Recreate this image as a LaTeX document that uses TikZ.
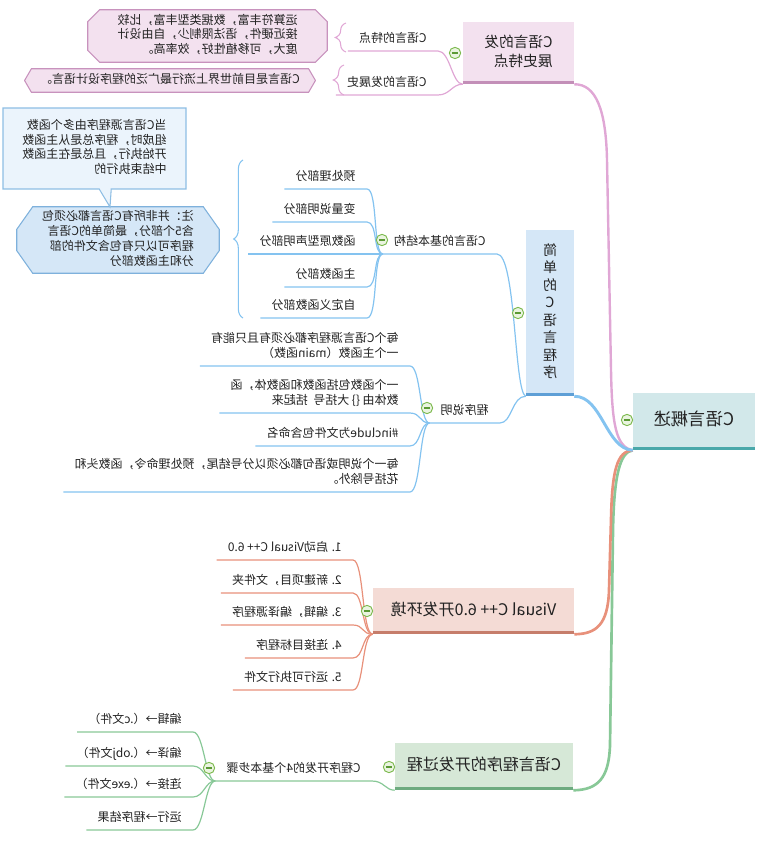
\documentclass[tikz,border=0pt]{standalone}
\usepackage{fontspec}
\usepackage{graphicx}
\setmainfont{Noto Sans CJK SC}
\usetikzlibrary{decorations.pathreplacing,shapes.callouts,backgrounds,calc}
\definecolor{txt}{HTML}{222222}
\definecolor{tealF}{HTML}{D2E8EA}\definecolor{tealB}{HTML}{4AA8AA}
\definecolor{pinkF}{HTML}{F3E1EF}\definecolor{pinkB}{HTML}{C38FB8}\definecolor{pinkL}{HTML}{E0A7D5}\definecolor{pinkD}{HTML}{C892BD}
\definecolor{blueF}{HTML}{D5E7F7}\definecolor{blueB}{HTML}{5E9FD6}\definecolor{blueL}{HTML}{84C3F0}\definecolor{blueD}{HTML}{7EB1DC}
\definecolor{salF}{HTML}{F4DBD5}\definecolor{salB}{HTML}{C67D6B}\definecolor{salL}{HTML}{E8917B}
\definecolor{grnF}{HTML}{D6E8D7}\definecolor{grnB}{HTML}{6EAB80}\definecolor{grnL}{HTML}{88C897}
\definecolor{mRing}{HTML}{7DBA4F}\definecolor{mFill}{HTML}{EAF4E0}\definecolor{mDash}{HTML}{5B9A35}
\definecolor{callF}{HTML}{EBF4FC}\definecolor{callD}{HTML}{8EBEE4}
\newcommand\mirL[1]{\reflectbox{\begin{tabular}{@{}l@{}}#1\end{tabular}}}
\newcommand\mirC[1]{\reflectbox{\begin{tabular}{@{}c@{}}#1\end{tabular}}}
\newcommand\chamfbox[4]{\draw[#4] ([xshift=#2]#1.north west) -- ([xshift=-#2]#1.north east) -- ([yshift=-#3]#1.north east) -- ([yshift=#3]#1.south east) -- ([xshift=-#2]#1.south east) -- ([xshift=#2]#1.south west) -- ([yshift=#3]#1.south west) -- ([yshift=-#3]#1.north west) -- cycle;}
\begin{document}
\begin{tikzpicture}[x=0.75pt,y=-0.75pt,
  box/.style={inner sep=0pt, text=txt},
  leaf/.style={anchor=south east, inner xsep=8.25pt, inner ysep=3pt, font=\fontsize{9}{11.25}\selectfont, text=txt},
  notet/.style={inner sep=0pt, font=\fontsize{9}{10.5}\selectfont, text=txt},
  minus/.style={circle, draw=mRing, fill=mFill, line width=0.7pt, minimum size=8.5pt, inner sep=0pt,
    path picture={\draw[mDash, line width=0.9pt] ([xshift=-2.3pt]path picture bounding box.center) -- ([xshift=2.3pt]path picture bounding box.center);}},
  pinkT/.style={pinkL, line width=0.9pt},
  blueT/.style={blueL, line width=0.9pt},
  salT/.style={salL, line width=0.9pt},
  grnT/.style={grnL, line width=0.9pt},
  bar/.style={line width=2.25pt}]
\useasboundingbox (0,0) rectangle (760,841);

% ---- main boxes
\node[box, fill=tealF, minimum width=91.5pt, minimum height=42.75pt, font=\fontsize{13}{16}\selectfont] (root) at (694,421.5) {\mirC{C语言概述}};
\node[box, fill=pinkF, minimum width=83.25pt, minimum height=46.5pt, font=\fontsize{11}{14.25}\selectfont] (dev) at (518.5,53) {\mirL{C语言的发\\展史特点}};
\node[box, fill=blueF, minimum width=36pt, minimum height=124.5pt, font=\fontsize{10.5}{13.1}\selectfont] (simple) at (550,313) {\mirC{简\\单\\的\\C\\语\\言\\程\\序}};
\node[box, fill=salF, minimum width=150.75pt, minimum height=34.5pt, font=\fontsize{12}{15}\selectfont] (vc) at (473.5,611) {\mirC{Visual C++ 6.0开发环境}};
\node[box, fill=grnF, minimum width=133.5pt, minimum height=35.25pt, font=\fontsize{12}{15}\selectfont] (proc) at (484,766.5) {\mirC{C语言程序的开发过程}};

\draw[bar, tealB] ([yshift=1.1pt]root.south west) -- ([yshift=1.1pt]root.south east);
\draw[bar, pinkB] ([yshift=1.1pt]dev.south west) -- ([yshift=1.1pt]dev.south east);
\draw[bar, blueB] ([yshift=1.1pt]simple.south west) -- ([yshift=1.1pt]simple.south east);
\draw[bar, salB] ([yshift=1.1pt]vc.south west) -- ([yshift=1.1pt]vc.south east);
\draw[bar, grnB] ([yshift=1.1pt]proc.south west) -- ([yshift=1.1pt]proc.south east);

% ---- main connectors
\draw[grnL, line width=2pt] (root.south west) .. controls (620,452) and (614,475) .. (613,530) -- (610,745) .. controls (609,778) and (598,790) .. (proc.south east);
\draw[salL, line width=2pt] (root.south west) .. controls (617,451) and (612,470) .. (611,520) -- (609,590) .. controls (608,625) and (596,634) .. (vc.south east);
\draw[pinkL, line width=1.8pt] (root.south west) .. controls (616,447) and (612,425) .. (611,370) -- (607,160) .. controls (606,110) and (596,84) .. (dev.south east);
\draw[blueL, line width=2.2pt] (root.south west) .. controls (606,449) and (602,396) .. (simple.south east);

% ---- pink branch
\node[leaf] (feat) at (438,51) {\mirL{C语言的特点}};
\node[leaf] (hist) at (438,95) {\mirL{C语言的发展史}};
\draw[pinkT] (dev.south west) .. controls (452,84) and (450,51) .. (feat.south east) -- (feat.south west);
\draw[pinkT] (dev.south west) .. controls (452,84) and (450,95) .. (hist.south east) -- (hist.south west);
\draw[pinkL, line width=0.8pt, decorate, decoration={brace, amplitude=8pt}] (346,52) -- (346,23);
\draw[pinkL, line width=0.8pt, decorate, decoration={brace, amplitude=8pt}] (344,95) -- (344,65);
\node[notet, minimum width=179.25pt, minimum height=39pt] (n1) at (207.5,36) {\mirL{运算符丰富，数据类型丰富，比较\\接近硬件，语法限制少，自由设计\\度大，可移植性好，效率高。}};
\node[notet, minimum width=217.5pt, minimum height=17.25pt] (n2) at (170,80.5) {\mirL{C语言是目前世界上流行最广泛的程序设计语言。}};
\begin{scope}[on background layer]
\chamfbox{n1}{9pt}{9pt}{fill=pinkF, draw=pinkD, line width=0.8pt}
\chamfbox{n2}{5pt}{8.6pt}{fill=pinkF, draw=pinkD, line width=0.8pt}
\end{scope}

% ---- blue branch
\node[leaf] (struct) at (497,254) {\mirL{C语言的基本结构}};
\node[leaf] (prog) at (500,423) {\mirL{程序说明}};
\draw[blueT] (simple.south west) .. controls (514,392) and (516,254) .. (struct.south east) -- (struct.south west);
\draw[blueT] (simple.south west) .. controls (512,396) and (512,423) .. (prog.south east) -- (prog.south west);

\node[leaf] (c1) at (367,189) {\mirL{预处理部分}};
\node[leaf] (c2) at (367,222) {\mirL{变量说明部分}};
\node[leaf] (c3) at (367,254) {\mirL{函数原型声明部分}};
\node[leaf] (c4) at (367,287) {\mirL{主函数部分}};
\node[leaf] (c5) at (367,318) {\mirL{自定义函数部分}};
\foreach \n in {c1,c2,c4,c5}{
  \draw[blueT] (struct.south west) .. controls ($(struct.south west)+(-10,0)$) and ($(\n.south east)+(11,0)$) .. (\n.south east) -- (\n.south west);
}
\draw[blueT] (struct.south west) -- (c3.south east) -- (c3.south west);
\draw[blueL, line width=0.8pt, decorate, decoration={brace, amplitude=7pt}] (243,318) -- (243,160);

\node[rectangle callout, callout absolute pointer={(110,207)}, callout pointer width=9pt, fill=callF, draw=callD, line width=0.8pt, minimum width=137.25pt, minimum height=60.75pt, inner sep=0pt, font=\fontsize{9}{10.75}\selectfont, text=txt] (call) at (94.5,148.5) {\mirL{当C语言源程序由多个函数\\组成时，程序总是从主函数\\开始执行，且总是在主函数\\中结束执行的}};
\node[notet, minimum width=151.5pt, minimum height=49.5pt, font=\fontsize{9}{11.25}\selectfont] (n3) at (118,240) {\mirL{注：并非所有C语言都必须包\\含5个部分，最简单的C语言\\程序可以只有包含文件的部\\分和主函数部分}};
\begin{scope}[on background layer]
\chamfbox{n3}{12pt}{17pt}{fill=blueF, draw=blueD, line width=0.8pt}
\end{scope}

\node[leaf] (p1) at (410,366) {\mirL{每个C语言源程序都必须有且只能有\\一个主函数（main函数）}};
\node[leaf] (p2) at (410,413) {\mirL{一个函数包括函数和函数体，函\\数体由 \{\} 大括号\ \ 括起来}};
\node[leaf] (p3) at (410,446) {\mirL{\#include为文件包含命名}};
\node[leaf] (p4) at (410,492) {\mirL{每一个说明或语句都必须以分号结尾，预处理命令，函数头和\\花括号除外。}};
\foreach \n in {p1,p2,p3,p4}{
  \draw[blueT] (prog.south west) .. controls ($(prog.south west)+(-10,0)$) and ($(\n.south east)+(11,0)$) .. (\n.south east) -- (\n.south west);
}

% ---- salmon branch
\node[leaf] (s1) at (353,560) {\mirL{1. 启动Visual C++ 6.0}};
\node[leaf] (s2) at (353,593) {\mirL{2. 新建项目，文件夹}};
\node[leaf] (s3) at (353,625) {\mirL{3. 编辑，编译源程序}};
\node[leaf] (s4) at (353,658) {\mirL{4. 连接目标程序}};
\node[leaf] (s5) at (353,690) {\mirL{5. 运行可执行文件}};
\foreach \n in {s1,s2,s3,s4,s5}{
  \draw[salT] (vc.south west) .. controls ($(vc.south west)+(-11,0)$) and ($(\n.south east)+(11,0)$) .. (\n.south east) -- (\n.south west);
}

% ---- green branch
\node[leaf] (step) at (372,781) {\mirL{C程序开发的4个基本步骤}};
\draw[grnT] (proc.south west) .. controls (385,790) and (384,781) .. (step.south east) -- (step.south west);
\node[leaf] (g1) at (193,732) {\mirL{编辑→（.c文件）}};
\node[leaf] (g2) at (193,766) {\mirL{编译→（.obj文件）}};
\node[leaf] (g3) at (193,797) {\mirL{连接→（.exe文件）}};
\node[leaf] (g4) at (193,830) {\mirL{运行→程序结果}};
\foreach \n in {g1,g2,g3,g4}{
  \draw[grnT] (step.south west) .. controls ($(step.south west)+(-10,0)$) and ($(\n.south east)+(11,0)$) .. (\n.south east) -- (\n.south west);
}

% ---- collapse markers
\node[minus] (mroot) at (627,420) {};
\node[minus] (mdev) at (455,53) {};
\node[minus] (msimple) at (518,313) {};
\node[minus] (mvc) at (367,611) {};
\node[minus] (mproc) at (389,767) {};
\node[minus] (mstruct) at (382,240) {};
\node[minus] (mprog) at (427,408) {};
\node[minus] (mstep) at (209,768) {};
\end{tikzpicture}
\end{document}
